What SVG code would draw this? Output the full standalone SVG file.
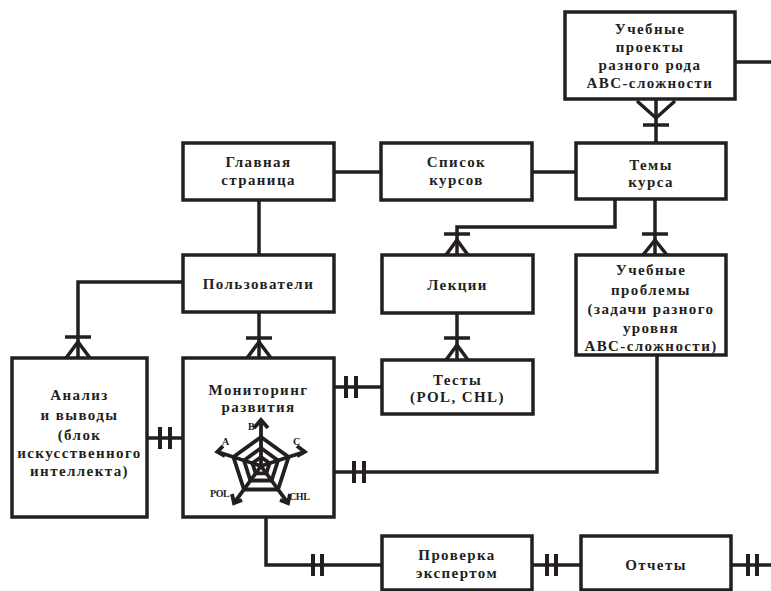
<svg xmlns="http://www.w3.org/2000/svg" width="771" height="591" viewBox="0 0 771 591" font-family="'Liberation Serif', 'DejaVu Serif', serif">
<style>
.box{fill:#fff;stroke:#231f20;stroke-width:3.5}
.ln{fill:none;stroke:#231f20;stroke-width:3.5}
.bar{fill:none;stroke:#231f20;stroke-width:4}
.t{font-family:'Liberation Serif','Times New Roman',serif;font-weight:bold;font-size:15px;letter-spacing:1.4px;fill:#231f20;text-anchor:middle}
.s{font-family:'Liberation Serif','Times New Roman',serif;font-weight:bold;font-size:10px;letter-spacing:-0.4px;fill:#231f20}
.ch{fill:none;stroke:#231f20;stroke-width:3.8;stroke-linejoin:miter}
</style>
<rect width="771" height="591" fill="#fff"/>
<g id="connectors">
  <path class="ln" d="M334 172H381"/>
  <path class="ln" d="M532 172H576"/>
  <path class="ln" d="M735 62H771"/>
  <path class="ln" d="M656 99V143"/>
  <path class="ln" d="M637 101L656 118L675 101"/>
  <path class="ln" d="M643 125H669"/>
  <path class="ln" d="M259 200V255"/>
  <path class="ln" d="M183 282H78V358"/>
  <path class="ln" d="M65 337H91"/>
  <path class="ln" d="M66 358L78 342L90 358"/>
  <path class="ln" d="M259 312V358"/>
  <path class="ln" d="M246 338H272"/>
  <path class="ln" d="M247 358L259 342L271 358"/>
  <path class="ln" d="M147 438H183"/>
  <path class="bar" d="M160 427V449M170 427V449"/>
  <path class="ln" d="M334 387H382"/>
  <path class="bar" d="M346 376V398M356 376V398"/>
  <path class="ln" d="M615 199V227H457V255"/>
  <path class="ln" d="M444 234H470"/>
  <path class="ln" d="M446 255L457 240L468 255"/>
  <path class="ln" d="M655 199V255"/>
  <path class="ln" d="M642 234H668"/>
  <path class="ln" d="M643 255L655 240L667 255"/>
  <path class="ln" d="M457 313V360"/>
  <path class="ln" d="M444 338H470"/>
  <path class="ln" d="M446 360L457 345L468 360"/>
  <path class="ln" d="M657 355V472H334"/>
  <path class="bar" d="M354 461V483M364 461V483"/>
  <path class="ln" d="M266 517V565H382"/>
  <path class="bar" d="M313 554V576M322 554V576"/>
  <path class="ln" d="M532 565H581"/>
  <path class="bar" d="M547 554V576M556 554V576"/>
  <path class="ln" d="M731 565H771"/>
  <path class="bar" d="M748 554V576M757 554V576"/>
</g>
<g id="proekty">
  <rect class="box" x="565" y="12" width="170" height="87"/>
  <text class="t" x="650" y="34">Учебные</text>
  <text class="t" x="650" y="52">проекты</text>
  <text class="t" x="650" y="70">разного рода</text>
  <text class="t" x="650" y="88">АВС-сложности</text>
</g>
<g id="glavnaya">
  <rect class="box" x="183" y="143" width="151" height="57"/>
  <text class="t" x="258.5" y="167">Главная</text>
  <text class="t" x="258.5" y="185">страница</text>
</g>
<g id="spisok">
  <rect class="box" x="381" y="143" width="151" height="57"/>
  <text class="t" x="456.5" y="167">Список</text>
  <text class="t" x="456.5" y="185">курсов</text>
</g>
<g id="temy">
  <rect class="box" x="576" y="143" width="150" height="56"/>
  <text class="t" x="651" y="170">Темы</text>
  <text class="t" x="651" y="187">курса</text>
</g>
<g id="polzovateli">
  <rect class="box" x="183" y="255" width="151" height="57"/>
  <text class="t" x="258.5" y="289">Пользователи</text>
</g>
<g id="lekcii">
  <rect class="box" x="382" y="255" width="151" height="58"/>
  <text class="t" x="457.5" y="290">Лекции</text>
</g>
<g id="problemy">
  <rect class="box" x="576" y="255" width="150" height="100"/>
  <text class="t" x="651" y="275">Учебные</text>
  <text class="t" x="651" y="295">проблемы</text>
  <text class="t" x="651" y="314">(задачи разного</text>
  <text class="t" x="651" y="333">уровня</text>
  <text class="t" x="651" y="351">АВС-сложности)</text>
</g>
<g id="analiz">
  <rect class="box" x="12" y="358" width="135" height="159"/>
  <text class="t" x="79.5" y="400">Анализ</text>
  <text class="t" x="79.5" y="420">и выводы</text>
  <text class="t" x="79.5" y="440">(блок</text>
  <text class="t" x="79.5" y="458">искусственного</text>
  <text class="t" x="79.5" y="476">интеллекта)</text>
</g>
<g id="monitoring">
  <rect class="box" x="183" y="358" width="151" height="159"/>
  <text class="t" x="258.5" y="395">Мониторинг</text>
  <text class="t" x="258.5" y="412">развития</text>
  <g id="radar">
    <path class="ch" d="M261 437L288.6 457L278 489.5L244 489.5L233.4 457Z"/>
    <path class="ch" d="M261 448L278 460.5L271.6 480.5L250.4 480.5L244 460.5Z"/>
    <path class="ch" d="M261 457L269.6 463.2L266.3 473.3L255.7 473.3L252.4 463.2Z"/>
    <path class="ch" d="M261 466V420M261 466L217.3 451.8M261 466L304.7 451.8M261 466L234 503.2M261 466L288 503.2"/>
    <path class="ch" d="M254 428L261 420L268 428"/>
    <path class="ch" d="M223 446L217.3 451.8L225 456"/>
    <path class="ch" d="M297 446L304.7 451.8L297 456"/>
    <path class="ch" d="M232 494L234 503.2L242 500"/>
    <path class="ch" d="M290 494L288 503.2L280 500"/>
    <text class="s" x="248" y="430">B</text>
    <text class="s" x="222" y="445">A</text>
    <text class="s" x="293" y="445">C</text>
    <text class="s" x="210" y="497">POL</text>
    <text class="s" x="289" y="500">CHL</text>
  </g>
</g>
<g id="testy">
  <rect class="box" x="382" y="360" width="151" height="54"/>
  <text class="t" x="457.5" y="385">Тесты</text>
  <text class="t" x="457.5" y="402">(POL, CHL)</text>
</g>
<g id="proverka">
  <rect class="box" x="382" y="536" width="150" height="54"/>
  <text class="t" x="457" y="560">Проверка</text>
  <text class="t" x="457" y="578">экспертом</text>
</g>
<g id="otchety">
  <rect class="box" x="581" y="536" width="150" height="54"/>
  <text class="t" x="656" y="570">Отчеты</text>
</g>
</svg>
